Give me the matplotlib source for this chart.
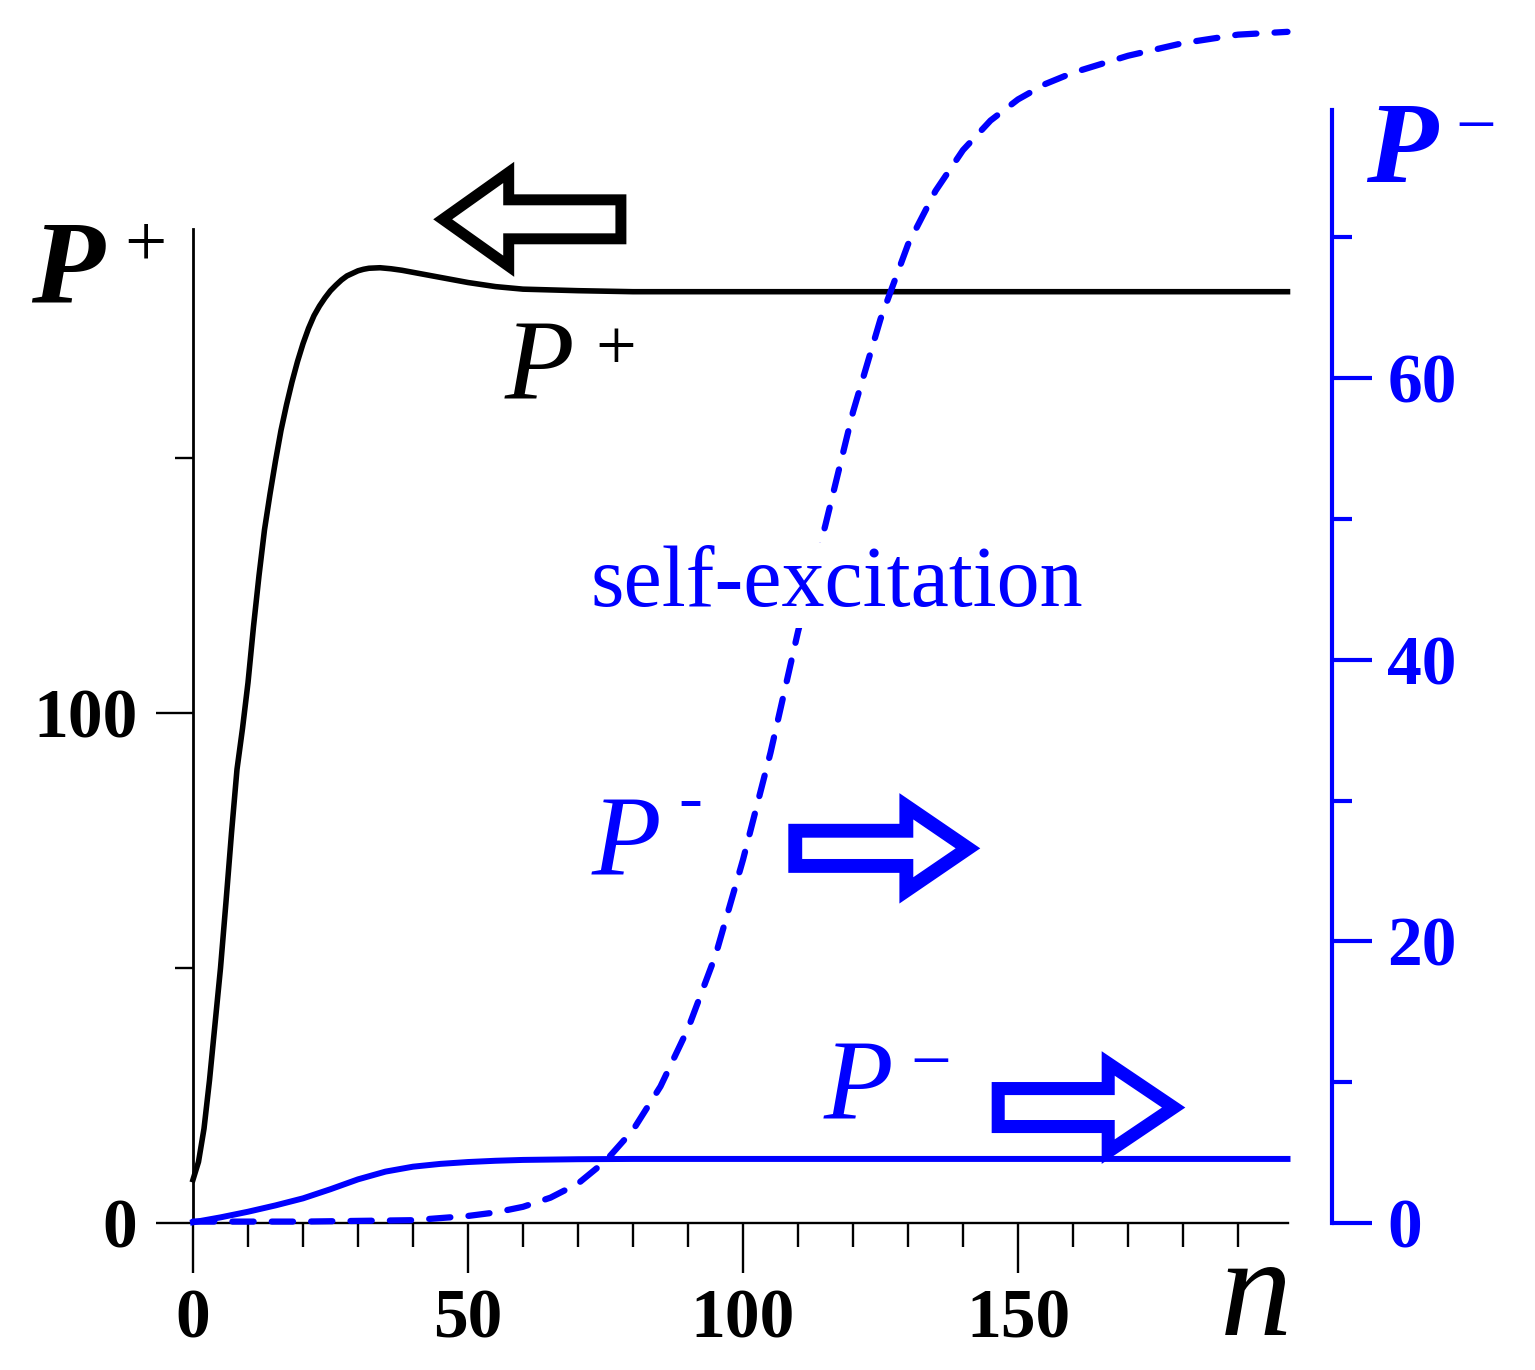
import numpy as np
import matplotlib.pyplot as plt
from matplotlib.patches import FancyArrow

plt.rcParams['font.family'] = ['Liberation Serif', 'DejaVu Serif']

# ---- data ----
# P+ (left axis), black solid
n_plus = [0, 1, 2, 3, 4, 5, 6, 7, 8, 9, 10, 11, 12, 13, 14, 15, 16, 17, 18, 19, 20,
          21, 22, 23, 24, 25, 26, 27, 28, 29, 30, 31, 32, 34, 36, 38, 40, 45, 50,
          55, 60, 70, 80, 100, 150, 199]
p_plus = [8.5, 12, 18.5, 28, 39, 50, 63, 76.5, 89, 97, 106, 117, 127, 136, 143, 149.5,
          155.5, 160.5, 165, 169, 172.5, 175.5, 178, 179.9, 181.5, 182.9, 184, 185,
          185.8, 186.3, 186.8, 187.1, 187.3, 187.4, 187.2, 186.9, 186.5, 185.5, 184.5,
          183.7, 183.2, 182.9, 182.7, 182.7, 182.7, 182.7]

# P- (right axis), blue solid
n_minus = [0, 5, 10, 15, 20, 25, 30, 35, 40, 45, 50, 55, 60, 70, 80, 100, 199]
p_minus = [0.05, 0.4, 0.8, 1.25, 1.75, 2.4, 3.1, 3.65, 4.0, 4.2, 4.33, 4.42, 4.48,
           4.53, 4.55, 4.55, 4.55]

# P- with self-excitation (right axis), blue dashed
n_self = [0, 10, 20, 30, 40, 45, 50, 55, 60, 65, 70, 75, 80, 85, 90, 95, 100, 105,
          110, 115, 120, 125, 130, 135, 140, 145, 150, 155, 160, 170, 180, 190, 199]
p_self = [0.1, 0.1, 0.1, 0.15, 0.2, 0.35, 0.5, 0.75, 1.15, 1.8, 2.8, 4.4, 6.6, 9.7,
          13.8, 19.0, 25.8, 33.4, 42.0, 49.6, 57.6, 64.2, 69.5, 73.3, 76.2, 78.3,
          79.8, 80.9, 81.7, 82.9, 83.8, 84.4, 84.6]

x_major = [0, 50, 100, 150]
x_minor = [10, 20, 30, 40, 60, 70, 80, 90, 110, 120, 130, 140, 160, 170, 180, 190]
yl_major = [0, 100]
yl_minor = [50, 150]
yr_major = [0, 20, 40, 60]
yr_minor = [10, 30, 50, 70]

W, H = 1535, 1370
BLUE = '#0000ff'

def fx(px):
    return px / W

def fy(py):
    return 1 - py / H

fig = plt.figure(figsize=(W / 100, H / 100), dpi=100)

# left axis (P+)
ax = fig.add_axes([fx(193), fy(1223), 1100 / W, (1223 - 229) / H])
ax.set_xlim(0, 200)
ax.set_ylim(0, 195)
ax.patch.set_visible(False)
for s in ['top', 'right']:
    ax.spines[s].set_visible(False)
ax.spines['left'].set_linewidth(2)
ax.spines['bottom'].set_linewidth(1.7)
ax.spines['bottom'].set_bounds(0, 199)

ax.set_xticks(x_major)
ax.set_xticks(x_minor, minor=True)
ax.set_xticklabels([str(v) for v in x_major], fontsize=50, fontweight='bold')
ax.set_yticks(yl_major)
ax.set_yticks(yl_minor, minor=True)
ax.set_yticklabels([str(v) for v in yl_major], fontsize=50, fontweight='bold')
ax.tick_params(axis='x', which='major', length=36, width=1.7, pad=11)
ax.tick_params(axis='x', which='minor', length=17, width=1.7)
ax.tick_params(axis='y', which='major', length=27, width=1.7, pad=13)
ax.tick_params(axis='y', which='minor', length=13, width=1.7)

ax.plot(n_plus, p_plus, color='black', lw=4, clip_on=False, zorder=3)

# right axis (P-)
ax2 = fig.add_axes([fx(193), fy(1223), 1100 / W, (1223 - 110) / H])
ax2.set_xlim(0, 200)
ax2.set_ylim(0, (1223 - 110) / 14.08)
ax2.patch.set_visible(False)
for s in ['top', 'left', 'bottom']:
    ax2.spines[s].set_visible(False)
ax2.spines['right'].set_position(('outward', 28))
ax2.spines['right'].set_color(BLUE)
ax2.spines['right'].set_linewidth(3)
ax2.xaxis.set_visible(False)
ax2.yaxis.tick_right()
ax2.set_yticks(yr_major)
ax2.set_yticks(yr_minor, minor=True)
ax2.set_yticklabels([str(v) for v in yr_major], fontsize=50, fontweight='bold')
ax2.tick_params(axis='y', which='major', length=29, width=3, pad=11,
                color=BLUE, labelcolor=BLUE)
ax2.tick_params(axis='y', which='minor', length=14.5, width=3, color=BLUE)

ax2.plot(n_minus, p_minus, color=BLUE, lw=4.3, clip_on=False, zorder=3)
ax2.plot(n_self, p_self, color=BLUE, lw=4.5, clip_on=False, zorder=3,
         dashes=(3.4, 2.9), dash_capstyle='round')

# hollow arrows pointing to the axis each curve belongs to
ax.add_patch(FancyArrow(77.8, 196.9, -32.4, 0, width=7.65, head_width=18.4,
                        head_length=12, length_includes_head=True, fill=False,
                        ec='black', lw=7.9, joinstyle='miter', clip_on=False))
ax.add_patch(FancyArrow(109.5, 73.5, 31.4, 0, width=6.9, head_width=16.5,
                        head_length=11.2, length_includes_head=True, fill=False,
                        ec=BLUE, lw=10, joinstyle='miter', clip_on=False))
ax.add_patch(FancyArrow(146.4, 22.65, 31.9, 0, width=7.45, head_width=17.3,
                        head_length=11.9, length_includes_head=True, fill=False,
                        ec=BLUE, lw=9.4, joinstyle='miter', clip_on=False))

# labels
fig.text(fx(31), fy(303), 'P', fontsize=86, fontweight='bold', fontstyle='italic',
         va='baseline', ha='left')
fig.text(fx(145), fy(248), '+', fontsize=54, va='center', ha='center')

fig.text(fx(505), fy(398), 'P', fontsize=82, fontstyle='italic', va='baseline', ha='left')
fig.text(fx(616), fy(352), '+', fontsize=52, va='center', ha='center')

fig.text(fx(1366), fy(182), 'P', fontsize=84, fontweight='bold', fontstyle='italic',
         va='baseline', ha='left', color=BLUE)
fig.text(fx(1476), fy(130), '\u2212', fontsize=52, va='center', ha='center', color=BLUE)

fig.text(fx(592), fy(873), 'P', fontsize=82, fontstyle='italic', va='baseline',
         ha='left', color=BLUE)
fig.text(fx(690), fy(803), '-', fontsize=52, va='center', ha='center', color=BLUE)

fig.text(fx(824), fy(1117), 'P', fontsize=82, fontstyle='italic', va='baseline',
         ha='left', color=BLUE)
fig.text(fx(931), fy(1066), '\u2212', fontsize=52, va='center', ha='center', color=BLUE)

fig.text(fx(591), fy(606), 'self-excitation', fontsize=62, va='baseline', ha='left',
         color=BLUE, zorder=5,
         bbox=dict(facecolor='white', edgecolor='none', pad=2))

fig.text(fx(1220), fy(1335), 'n', fontsize=104, fontstyle='italic', va='baseline',
         ha='left')

fig.savefig('out.png', dpi=100)
